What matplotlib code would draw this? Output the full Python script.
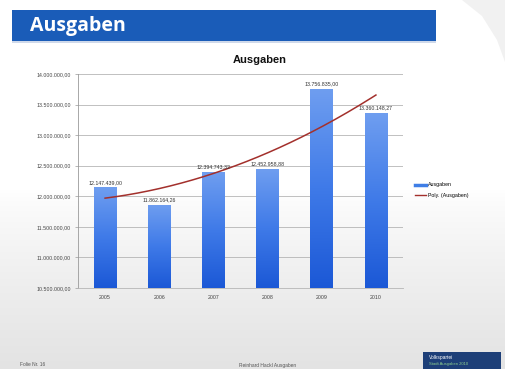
import numpy as np
import matplotlib
matplotlib.use("Agg")
import matplotlib.pyplot as plt
from matplotlib.patches import Rectangle, Polygon
from matplotlib.colors import LinearSegmentedColormap
from matplotlib.lines import Line2D

plt.rcParams['font.family'] = ['Liberation Sans', 'DejaVu Sans']

# Data
years = ['2005', '2006', '2007', '2008', '2009', '2010']
ausgaben = [12147439.00, 11862164.26, 12394743.32, 12452958.88, 13756835.00, 13360148.27]
y_ticks = [10500000, 11000000, 11500000, 12000000, 12500000, 13000000, 13500000, 14000000]
slide_title = 'Ausgaben'
chart_title = 'Ausgaben'
legend_labels = ['Ausgaben', 'Poly. (Ausgaben)']
footer_left = 'Folie Nr. 16'
footer_mid = 'Reinhard Hackl Ausgaben'
footer_logo = ['Volkspartei', 'Stadt Ausgaben 2010']

W, H = 505, 369
fig = plt.figure(figsize=(W / 100, H / 100), dpi=100)

def fx(px):
    return px / W

def fy(py):
    return 1 - py / H

# Slide background: white fading to light grey towards the bottom
bg = fig.add_axes([0, 0, 1, 1], zorder=0)
bg.set_xlim(0, W)
bg.set_ylim(H, 0)
bg.axis('off')
t = np.clip((np.arange(H) - 190) / (H - 190), 0, 1) ** 0.8
vals = 1.0 - 0.11 * t
img = np.repeat(vals.reshape(-1, 1, 1), 3, axis=2)
img = np.repeat(img, 2, axis=1)
bg.imshow(img, extent=[0, W, H, 0], aspect='auto', zorder=0, interpolation='bilinear')

# Faint grey swoosh in the upper right corner
bg.add_patch(Polygon([[462, 0], [505, 0], [505, 62], [497, 40], [482, 16]],
                     closed=True, facecolor='#f1f1f1', edgecolor='none', zorder=1))

# Title bar
bg.add_patch(Rectangle((12, 10), 424, 31, facecolor='#1a5cb8', edgecolor='none', zorder=2))
bg.add_patch(Rectangle((12, 41), 424, 2, facecolor='#cfd9ea', edgecolor='none', zorder=2))
bg.text(30, 26, slide_title, color='white', fontsize=14, fontweight='bold',
        va='center', ha='left', zorder=3, family=['Open Sans', 'DejaVu Sans'])

# Footer
bg.text(20, 365, footer_left, fontsize=3.5, color='#555555', va='center', ha='left', zorder=3)
bg.text(268, 365, footer_mid, fontsize=3.5, color='#555555', va='center', ha='center', zorder=3)
bg.add_patch(Rectangle((423, 352), 78, 17, facecolor='#1d3f78', edgecolor='none', zorder=2))
bg.text(429, 357, footer_logo[0], fontsize=3.5, color='white', va='center', ha='left', zorder=3)
bg.text(429, 364, footer_logo[1], fontsize=3, color='#8fd18f', va='center', ha='left', zorder=3)

# Chart title
bg.text(260, 60, chart_title, fontsize=8, fontweight='bold', color='#111111',
        ha='center', va='center', zorder=3)

# Plot area
ax = fig.add_axes([fx(78), fy(288), fx(403) - fx(78), fy(74) - fy(288)], zorder=2)
ax.patch.set_alpha(0)
x = np.arange(len(years))
bars = ax.bar(x, ausgaben, width=0.42, bottom=0, color='#3f7ee6', edgecolor='none', zorder=2)
ax.set_ylim(y_ticks[0], y_ticks[-1])
ax.set_xlim(-0.5, len(years) - 0.5)

# Vertical gradient inside each bar
cmap = LinearSegmentedColormap.from_list('barblue', ['#1b58d6', '#3f7ae8', '#6f9ef0'])
gradient = np.linspace(0, 1, 256).reshape(-1, 1)
for b in bars:
    x0, w = b.get_x(), b.get_width()
    y0, y1 = y_ticks[0], b.get_height()
    im = ax.imshow(gradient, extent=[x0, x0 + w, y0, y1], origin='lower',
                   cmap=cmap, aspect='auto', zorder=3)
    im.set_clip_path(b)

# Value labels above bars
def fmt(v):
    s = f'{v:,.2f}'
    return s.replace(',', 'X').replace('.', ',').replace('X', '.')

for xi, v in zip(x, ausgaben):
    ax.text(xi, v + 40000, fmt(v), ha='center', va='bottom', fontsize=3.8,
            color='#333333', zorder=5)

# Polynomial trendline (order 2)
coef = np.polyfit(x + 1, ausgaben, 2)
xs = np.linspace(0, len(years) - 1, 200)
ax.plot(xs, np.polyval(coef, xs + 1), color='#a3302c', lw=1.1, zorder=4)

# Axes styling
ax.set_yticks(y_ticks)
ax.set_yticklabels([fmt(v) for v in y_ticks], fontsize=3.8, color='#444444')
ax.set_xticks(x)
ax.set_xticklabels(years, fontsize=3.8, color='#444444')
ax.grid(axis='y', color='#b5b5b5', lw=0.6, zorder=1)
for s in ['top', 'right']:
    ax.spines[s].set_visible(False)
ax.spines['left'].set_color('#9a9a9a')
ax.spines['left'].set_linewidth(0.6)
ax.spines['bottom'].set_color('#b5b5b5')
ax.spines['bottom'].set_linewidth(0.6)
ax.tick_params(axis='y', length=2, width=0.5, color='#9a9a9a', pad=3)
ax.tick_params(axis='x', length=0, pad=5)

# Legend
handles = [Line2D([0], [0], color='#3f7ee6', lw=2.5),
           Line2D([0], [0], color='#a3302c', lw=1)]
fig.legend(handles, legend_labels, loc='center left',
           bbox_to_anchor=(fx(410), fy(190)), frameon=False, fontsize=3.8,
           handlelength=2.2, labelspacing=1.0, handletextpad=0.4)

fig.savefig('out.png', dpi=100)
